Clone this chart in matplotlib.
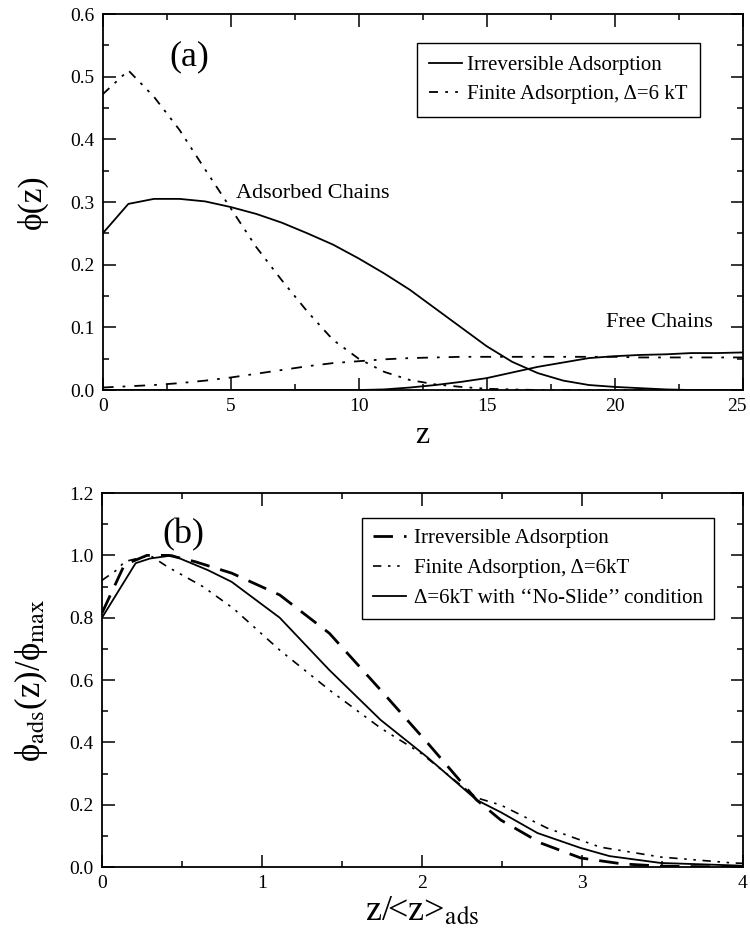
import matplotlib.pyplot as plt
import matplotlib.transforms as mtransforms
import numpy as np

plt.rcParams['font.family'] = ['Liberation Serif', 'DejaVu Serif']
plt.rcParams['mathtext.fontset'] = 'stix'

# (a) volume fraction profiles vs z
z = np.arange(0, 26)
irr_ads = [0.25, 0.297, 0.305, 0.305, 0.301, 0.292, 0.281, 0.267, 0.25, 0.232,
           0.21, 0.186, 0.16, 0.13, 0.10, 0.07, 0.045, 0.027, 0.015, 0.008,
           0.005, 0.003, 0.001, 0.0, 0.0, 0.0]
irr_free = [0, 0, 0, 0, 0, 0, 0, 0, 0, 0,
            0.0, 0.001, 0.004, 0.008, 0.013, 0.019, 0.028, 0.037, 0.044, 0.051,
            0.054, 0.056, 0.057, 0.059, 0.059, 0.06]
fin_ads = [0.472, 0.510, 0.468, 0.415, 0.352, 0.290, 0.228, 0.175, 0.125, 0.08,
           0.05, 0.029, 0.016, 0.009, 0.005, 0.002, 0.001, 0, 0, 0,
           0, 0, 0, 0, 0, 0]
fin_free = [0.004, 0.006, 0.008, 0.011, 0.015, 0.02, 0.026, 0.032, 0.038, 0.043,
            0.046, 0.049, 0.051, 0.052, 0.053, 0.053, 0.053, 0.053, 0.053, 0.053,
            0.053, 0.052, 0.052, 0.052, 0.052, 0.052]

# (b) normalized adsorbed profiles vs z/<z>_ads
irr_x = [0, 0.14, 0.28, 0.42, 0.58, 0.81, 1.11, 1.42, 1.74, 2.03, 2.34, 2.49,
         2.74, 2.99, 3.25, 3.49, 3.75, 4.0]
irr_y = [0.815, 0.97, 1.0, 1.0, 0.98, 0.943, 0.873, 0.75, 0.568, 0.40, 0.215,
         0.151, 0.077, 0.029, 0.01, 0.003, 0.001, 0.0]
fin_x = [0, 0.1, 0.14, 0.3, 0.41, 0.63, 0.82, 1.11, 1.42, 1.74, 1.99, 2.34,
         2.49, 2.78, 3.11, 3.49, 3.94, 4.0]
fin_y = [0.92, 0.956, 0.98, 1.0, 0.963, 0.9, 0.83, 0.696, 0.568, 0.446, 0.366,
         0.222, 0.199, 0.125, 0.064, 0.032, 0.013, 0.012]
ns_x = [0, 0.21, 0.30, 0.44, 0.66, 0.81, 1.11, 1.42, 1.74, 2.03, 2.34, 2.49,
        2.72, 2.99, 3.17, 3.49, 3.96, 4.0]
ns_y = [0.80, 0.975, 0.99, 1.0, 0.953, 0.915, 0.80, 0.632, 0.472, 0.353, 0.215,
        0.176, 0.109, 0.061, 0.035, 0.013, 0.005, 0.004]

dashdotdot = (0, (5, 4, 1.5, 4, 1.5, 4))

fig = plt.figure(figsize=(7.5, 9.34), dpi=100)
ax1 = fig.add_axes([0.137, 0.5824, 0.853, 0.4026])
ax2 = fig.add_axes([0.136, 0.0717, 0.854, 0.4004])


def style_axes(ax):
    for s in ax.spines.values():
        s.set_linewidth(1.3)
    ax.tick_params(which='both', direction='in', top=True, right=True,
                   labelsize=14, width=1.1)
    ax.tick_params(which='major', length=9, pad=6)
    ax.tick_params(which='minor', length=4)


# panel (a)
ax1.plot(z, irr_ads, color='black', lw=1.3, label='Irreversible Adsorption')
ax1.plot(z, irr_free, color='black', lw=1.3)
ax1.plot(z, fin_ads, color='black', lw=1.3, ls=dashdotdot,
         label='Finite Adsorption, Δ=6 kT')
ax1.plot(z, fin_free, color='black', lw=1.3, ls=(0, (6, 5, 1.5, 5)))
ax1.set_xlim(0, 25)
ax1.set_ylim(0, 0.6)
ax1.set_xticks(np.arange(0, 26, 5))
ax1.set_xticks(np.arange(0, 26, 2.5), minor=True)
ax1.set_yticks(np.arange(0, 0.61, 0.1))
ax1.set_yticks(np.arange(0, 0.61, 0.05), minor=True)
ax1.yaxis.set_major_formatter(plt.FormatStrFormatter('%.1f'))
style_axes(ax1)
# keep the last "25" inside the figure
last = ax1.get_xticklabels()[-1]
last.set_transform(last.get_transform() +
                   mtransforms.ScaledTranslation(-0.06, 0, fig.dpi_scale_trans))
ax1.set_xlabel('z', fontsize=23, labelpad=4)
ax1.set_ylabel('\u03d5(z)', fontsize=24, labelpad=16)
ax1.text(3.4, 0.531, '(a)', fontsize=26, ha='center', va='center')
ax1.text(5.2, 0.314, 'Adsorbed Chains', fontsize=16, va='center')
ax1.text(19.65, 0.107, 'Free Chains', fontsize=16, va='center')
leg1 = ax1.legend(loc='upper right', bbox_to_anchor=(0.933, 0.923), fontsize=15,
                  frameon=True, fancybox=False, edgecolor='black', framealpha=1,
                  handlelength=1.6, handletextpad=0.2, labelspacing=0.45,
                  borderaxespad=0, borderpad=0.6)
leg1.get_frame().set_linewidth(1.0)

# panel (b)
ax2.plot(irr_x, irr_y, color='black', lw=2.0, ls=(0, (7, 4)),
         label='Irreversible Adsorption')
ax2.plot(fin_x, fin_y, color='black', lw=1.2, ls=dashdotdot,
         label='Finite Adsorption, Δ=6kT')
ax2.plot(ns_x, ns_y, color='black', lw=1.3,
         label='Δ=6kT with \u2018\u2018No-Slide\u2019\u2019 condition')
ax2.set_xlim(0, 4)
ax2.set_ylim(0, 1.2)
ax2.set_xticks(np.arange(0, 4.1, 1))
ax2.set_xticks(np.arange(0, 4.1, 0.5), minor=True)
ax2.set_yticks(np.arange(0, 1.21, 0.2))
ax2.set_yticks(np.arange(0, 1.21, 0.1), minor=True)
ax2.yaxis.set_major_formatter(plt.FormatStrFormatter('%.1f'))
style_axes(ax2)
ax2.set_xlabel('z/<z>$_{\\rm ads}$', fontsize=26, labelpad=2)
ax2.set_ylabel('\u03d5$_{\\rm ads}$(z)/\u03d5$_{\\rm max}$', fontsize=25,
               labelpad=14)
ax2.text(0.51, 1.065, '(b)', fontsize=26, ha='center', va='center')
leg2 = ax2.legend(loc='upper right', bbox_to_anchor=(0.955, 0.933), fontsize=15,
                  frameon=True, fancybox=False, edgecolor='black', framealpha=1,
                  handlelength=1.6, handletextpad=0.4, labelspacing=0.5,
                  borderaxespad=0, borderpad=0.5)
leg2.get_frame().set_linewidth(1.0)

fig.savefig('out.png', dpi=100)
